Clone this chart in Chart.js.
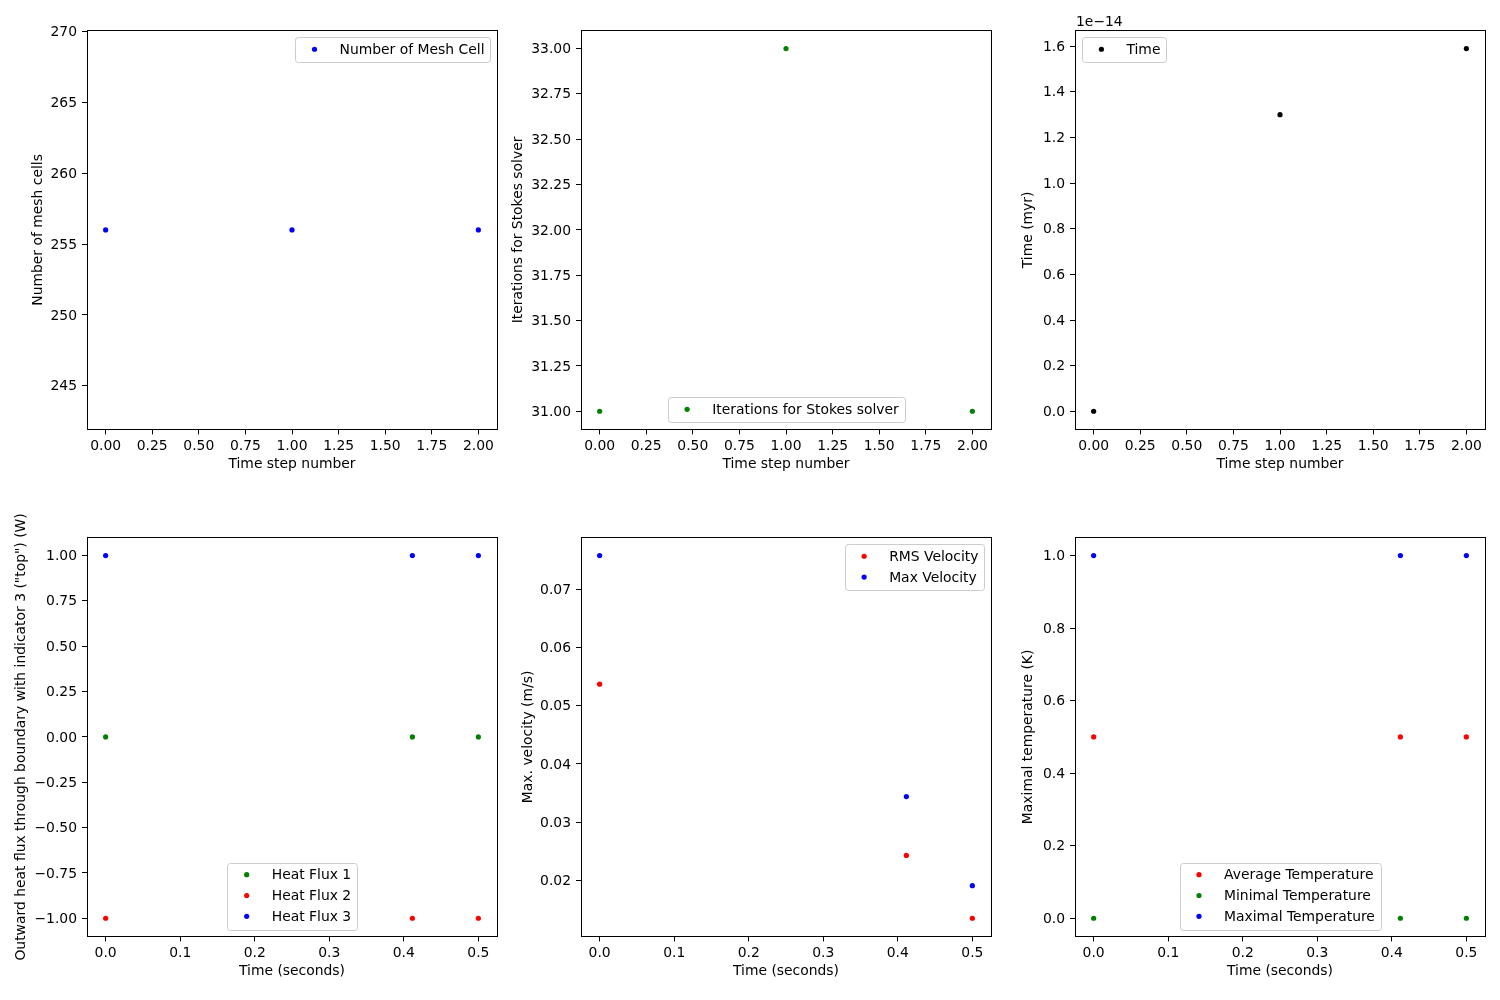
<!DOCTYPE html>
<html>
<head>
<meta charset="utf-8">
<title>Model statistics</title>
<script src="https://cdn.jsdelivr.net/npm/chart.js@4.4.1/dist/chart.umd.min.js"></script>
<style>
  html, body { margin: 0; padding: 0; background: #ffffff; }
  body { width: 1500px; height: 1000px; position: relative; overflow: hidden; }
  canvas { position: absolute; }
</style>
</head>
<body>
<canvas id="meshChart" width="498" height="479" style="left:7px;top:0px"></canvas>
<canvas id="stokesChart" width="498" height="479" style="left:501px;top:0px"></canvas>
<canvas id="timeChart" width="498" height="479" style="left:995px;top:0px"></canvas>
<canvas id="heatChart" width="498" height="479" style="left:7px;top:507px"></canvas>
<canvas id="velocityChart" width="498" height="479" style="left:501px;top:507px"></canvas>
<canvas id="temperatureChart" width="498" height="479" style="left:995px;top:507px"></canvas>
<script>
// ---------------- data ----------------
const stepNumbers = [0, 1, 2];
const meshCells = [256, 256, 256];
const stokesIterations = [31, 33, 31];
const timeMyr = [0, 1.30e-14, 1.59e-14];

const timeSeconds = [0, 0.4115, 0.5];
const heatFlux1 = [0, 0, 0];
const heatFlux2 = [-1, -1, -1];
const heatFlux3 = [1, 1, 1];
const rmsVelocity = [0.0537, 0.0243, 0.0135];
const maxVelocity = [0.0758, 0.0344, 0.0191];
const averageTemperature = [0.5, 0.5, 0.5];
const minimalTemperature = [0, 0, 0];
const maximalTemperature = [1, 1, 1];

// ---------------- tick labels ----------------
const stepTicks = [0, 0.25, 0.5, 0.75, 1, 1.25, 1.5, 1.75, 2];
const secondsTicks = [0, 0.1, 0.2, 0.3, 0.4, 0.5];
const meshTicks = [245, 250, 255, 260, 265, 270];
const stokesTicks = [31, 31.25, 31.5, 31.75, 32, 32.25, 32.5, 32.75, 33];
const timeTicks = [0, 0.2e-14, 0.4e-14, 0.6e-14, 0.8e-14, 1.0e-14, 1.2e-14, 1.4e-14, 1.6e-14];
const heatTicks = [-1, -0.75, -0.5, -0.25, 0, 0.25, 0.5, 0.75, 1];
const velocityTicks = [0.02, 0.03, 0.04, 0.05, 0.06, 0.07];
const temperatureTicks = [0, 0.2, 0.4, 0.6, 0.8, 1];

// ---------------- styling ----------------
const FONT = '"DejaVu Sans", "Liberation Sans", sans-serif';
const FS = 13.9;
Chart.defaults.font.family = FONT;
Chart.defaults.font.size = FS;
Chart.defaults.color = '#000000';

function withMargin(arrays, frac) {
  const all = [].concat(...arrays);
  const lo = Math.min(...all), hi = Math.max(...all);
  const m = (hi - lo) * frac;
  return [lo - m, hi + m];
}

const spinePlugin = {
  id: 'spines',
  afterDatasetsDraw(chart) {
    const { ctx, chartArea: a } = chart;
    ctx.save();
    ctx.strokeStyle = '#000000';
    ctx.lineWidth = 1;
    ctx.strokeRect(Math.round(a.left) + 0.5, Math.round(a.top) + 0.5,
                   Math.round(a.right - a.left), Math.round(a.bottom - a.top));
    ctx.restore();
  }
};

const legendPlugin = {
  id: 'mplLegend',
  afterDraw(chart, args, opts) {
    const { ctx, chartArea: a } = chart;
    const items = chart.data.datasets.map(d => ({ label: d.label, color: d.backgroundColor }));
    ctx.save();
    ctx.font = FS + 'px ' + FONT;
    const tw = Math.max(...items.map(it => ctx.measureText(it.label).width));
    const pad = 0.4 * FS, hl = 2 * FS, htp = 0.8 * FS, ls = 0.5 * FS, bap = 0.5 * FS;
    const w = 2 * pad + hl + htp + tw;
    const h = 2 * pad + items.length * FS + (items.length - 1) * ls;
    let x, y;
    if (opts.loc === 'upper right') { x = a.right - bap - w; y = a.top + bap; }
    else if (opts.loc === 'upper left') { x = a.left + bap; y = a.top + bap; }
    else { x = (a.left + a.right) / 2 - w / 2; y = a.bottom - bap - h; }
    ctx.beginPath();
    ctx.roundRect(Math.round(x) + 0.5, Math.round(y) + 0.5, Math.round(w), Math.round(h), 2.8);
    ctx.fillStyle = 'rgba(255,255,255,0.8)';
    ctx.fill();
    ctx.strokeStyle = '#cccccc';
    ctx.lineWidth = 1;
    ctx.stroke();
    ctx.textBaseline = 'middle';
    ctx.textAlign = 'left';
    items.forEach((it, i) => {
      const cy = y + pad + i * (FS + ls) + FS / 2 - 0.6;
      ctx.fillStyle = it.color;
      ctx.beginPath();
      ctx.arc(x + pad + hl / 2, cy, 2.6, 0, Math.PI * 2);
      ctx.fill();
      ctx.fillStyle = '#000000';
      ctx.fillText(it.label, x + pad + hl + htp, cy + 1);
    });
    ctx.restore();
  }
};

const offsetTextPlugin = {
  id: 'offsetText',
  afterDraw(chart, args, opts) {
    if (!opts.text) return;
    const { ctx, chartArea: a } = chart;
    ctx.save();
    ctx.font = FS + 'px ' + FONT;
    ctx.fillStyle = '#000000';
    ctx.textAlign = 'left';
    ctx.textBaseline = 'alphabetic';
    ctx.fillText(opts.text, a.left + 1, a.top - 4);
    ctx.restore();
  }
};

function buildChart(canvasId, spec) {
  const datasets = spec.series.map(s => ({
    label: s.label,
    data: s.x.map((xv, i) => ({ x: xv, y: s.y[i] })),
    backgroundColor: s.color,
    borderColor: s.color,
    pointRadius: 2.6,
    pointHoverRadius: 2.6,
    pointBorderWidth: 0,
    borderWidth: 0,
    showLine: false
  }));
  const tickGrid = { display: true, drawOnChartArea: false, drawTicks: true, tickLength: 5, tickColor: '#000000', tickWidth: 1 };
  return new Chart(document.getElementById(canvasId), {
    type: 'scatter',
    data: { datasets },
    options: {
      responsive: false,
      animation: false,
      events: [],
      layout: { padding: { left: 0, top: 30.4, right: 8, bottom: 0 } },
      plugins: {
        legend: { display: false },
        tooltip: { enabled: false },
        mplLegend: { loc: spec.legendLoc },
        offsetText: { text: spec.offsetText || '' }
      },
      scales: {
        x: {
          type: 'linear',
          position: 'bottom',
          min: spec.xRange[0],
          max: spec.xRange[1],
          afterBuildTicks: sc => { sc.ticks = spec.xTicks.map(v => ({ value: v })); },
          afterFit: sc => { sc.height = 49.6; },
          grid: tickGrid,
          border: { display: false },
          ticks: { autoSkip: false, maxRotation: 0, minRotation: 0, padding: 5.5, color: '#000000',
                   font: { size: FS, lineHeight: 1 }, callback: v => spec.xFmt(v) },
          title: { display: true, text: spec.xTitle, color: '#000000',
                   font: { size: FS, lineHeight: 1.2 }, padding: { top: 0, bottom: 5.9 } }
        },
        y: {
          type: 'linear',
          position: 'left',
          min: spec.yRange[0],
          max: spec.yRange[1],
          afterBuildTicks: sc => { sc.ticks = spec.yTicks.map(v => ({ value: v })); },
          afterFit: sc => { sc.width = 80; },
          grid: tickGrid,
          border: { display: false },
          ticks: { autoSkip: false, padding: 5, labelOffset: 1, color: '#000000',
                   font: { size: FS, lineHeight: 1 }, callback: v => spec.yFmt(v) },
          title: { display: true, text: spec.yTitle, color: '#000000',
                   font: { size: FS, lineHeight: 1.2 },
                   padding: { top: 80 - spec.yTitleGap - FS * 0.6, bottom: 0 } }
        }
      }
    },
    plugins: [spinePlugin, legendPlugin, offsetTextPlugin]
  });
}

const fmt = d => v => v.toFixed(d).replace('-', '\u2212');

buildChart('meshChart', {
  series: [{ label: 'Number of Mesh Cell', x: stepNumbers, y: meshCells, color: '#0000ff' }],
  xRange: withMargin([stepNumbers], 0.05), xTicks: stepTicks, xFmt: fmt(2), xTitle: 'Time step number',
  yRange: [241.92, 270.08], yTicks: meshTicks, yFmt: fmt(0), yTitle: 'Number of mesh cells', yTitleGap: 49,
  legendLoc: 'upper right'
});

buildChart('stokesChart', {
  series: [{ label: 'Iterations for Stokes solver', x: stepNumbers, y: stokesIterations, color: '#008000' }],
  xRange: withMargin([stepNumbers], 0.05), xTicks: stepTicks, xFmt: fmt(2), xTitle: 'Time step number',
  yRange: withMargin([stokesIterations], 0.05), yTicks: stokesTicks, yFmt: fmt(2), yTitle: 'Iterations for Stokes solver', yTitleGap: 63,
  legendLoc: 'lower center'
});

buildChart('timeChart', {
  series: [{ label: 'Time', x: stepNumbers, y: timeMyr, color: '#000000' }],
  xRange: withMargin([stepNumbers], 0.05), xTicks: stepTicks, xFmt: fmt(2), xTitle: 'Time step number',
  yRange: withMargin([timeMyr], 0.05), yTicks: timeTicks, yFmt: v => (v / 1e-14).toFixed(1), yTitle: 'Time (myr)', yTitleGap: 46.6,
  legendLoc: 'upper left', offsetText: '1e\u221214'
});

buildChart('heatChart', {
  series: [
    { label: 'Heat Flux 1', x: timeSeconds, y: heatFlux1, color: '#008000' },
    { label: 'Heat Flux 2', x: timeSeconds, y: heatFlux2, color: '#ff0000' },
    { label: 'Heat Flux 3', x: timeSeconds, y: heatFlux3, color: '#0000ff' }
  ],
  xRange: withMargin([timeSeconds], 0.05), xTicks: secondsTicks, xFmt: fmt(1), xTitle: 'Time (seconds)',
  yRange: withMargin([heatFlux1, heatFlux2, heatFlux3], 0.05), yTicks: heatTicks, yFmt: fmt(2),
  yTitle: 'Outward heat flux through boundary with indicator 3 ("top") (W)', yTitleGap: 65.5,
  legendLoc: 'lower center'
});

buildChart('velocityChart', {
  series: [
    { label: 'RMS Velocity', x: timeSeconds, y: rmsVelocity, color: '#ff0000' },
    { label: 'Max Velocity', x: timeSeconds, y: maxVelocity, color: '#0000ff' }
  ],
  xRange: withMargin([timeSeconds], 0.05), xTicks: secondsTicks, xFmt: fmt(1), xTitle: 'Time (seconds)',
  yRange: withMargin([rmsVelocity, maxVelocity], 0.05), yTicks: velocityTicks, yFmt: fmt(2),
  yTitle: 'Max. velocity (m/s)', yTitleGap: 52.6,
  legendLoc: 'upper right'
});

buildChart('temperatureChart', {
  series: [
    { label: 'Average Temperature', x: timeSeconds, y: averageTemperature, color: '#ff0000' },
    { label: 'Minimal Temperature', x: timeSeconds, y: minimalTemperature, color: '#008000' },
    { label: 'Maximal Temperature', x: timeSeconds, y: maximalTemperature, color: '#0000ff' }
  ],
  xRange: withMargin([timeSeconds], 0.05), xTicks: secondsTicks, xFmt: fmt(1), xTitle: 'Time (seconds)',
  yRange: withMargin([averageTemperature, minimalTemperature, maximalTemperature], 0.05), yTicks: temperatureTicks, yFmt: fmt(1),
  yTitle: 'Maximal temperature (K)', yTitleGap: 46.6,
  legendLoc: 'lower center'
});
</script>
</body>
</html>
